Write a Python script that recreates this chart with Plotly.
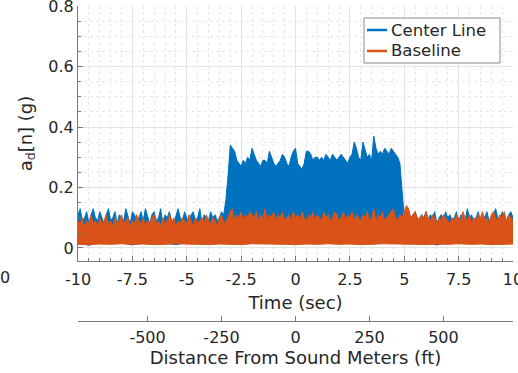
import numpy as np
import plotly.graph_objects as go

# ---------------- data ----------------
T_START, T_END = -10.0, 10.0
N_UPPER = 201          # upper envelopes read every 0.1 s
N_LOWER = 41           # lower envelopes read every 0.5 s
SPEED_FT_PER_S = 73.5

center_upper = [
    0.11, 0.13, 0.09, 0.10, 0.12, 0.08, 0.11, 0.13, 0.10, 0.09,
    0.12, 0.10, 0.08, 0.11, 0.13, 0.09, 0.10, 0.12, 0.08, 0.11,
    0.10, 0.09, 0.13, 0.10, 0.08, 0.12, 0.11, 0.09, 0.10, 0.12,
    0.09, 0.13, 0.10, 0.08, 0.11, 0.12, 0.09, 0.10, 0.13, 0.08,
    0.11, 0.10, 0.12, 0.09, 0.08, 0.11, 0.13, 0.10, 0.09, 0.12,
    0.10, 0.08, 0.11, 0.12, 0.09, 0.10, 0.13, 0.08, 0.11, 0.10,
    0.09, 0.12, 0.10, 0.11, 0.09, 0.10, 0.12, 0.11,
    0.16, 0.24,
    0.34, 0.33, 0.32, 0.29, 0.28, 0.27, 0.29, 0.28, 0.30, 0.29,
    0.33, 0.31, 0.29, 0.28, 0.27, 0.29, 0.29, 0.28, 0.32, 0.30,
    0.28, 0.27, 0.28, 0.29, 0.31, 0.30, 0.28, 0.27, 0.30, 0.32,
    0.33, 0.28, 0.27, 0.26, 0.28, 0.32, 0.32, 0.31, 0.29, 0.30,
    0.30, 0.29, 0.30, 0.29, 0.31, 0.30, 0.29, 0.31, 0.30, 0.29,
    0.30, 0.31, 0.30, 0.29, 0.28, 0.30, 0.31, 0.35, 0.33, 0.30,
    0.29, 0.35, 0.32, 0.30, 0.31, 0.29, 0.37, 0.33, 0.31, 0.32,
    0.31, 0.33, 0.32, 0.31, 0.33, 0.32, 0.31, 0.30, 0.28,
    0.20, 0.10,
    0.12, 0.10, 0.09, 0.11, 0.12, 0.10, 0.08, 0.11, 0.10, 0.12,
    0.09, 0.11, 0.10, 0.12, 0.08, 0.10, 0.11, 0.09, 0.12, 0.10,
    0.11, 0.09, 0.10, 0.12, 0.08, 0.11, 0.10, 0.09, 0.13, 0.10,
    0.11, 0.08, 0.10, 0.12, 0.09, 0.11, 0.10, 0.12, 0.09, 0.10,
    0.11, 0.13, 0.10, 0.09, 0.12, 0.10, 0.08, 0.11, 0.12, 0.10,
]

center_lower = [
    0.016, 0.009, 0.018, 0.015, 0.017, 0.010, 0.018, 0.016, 0.017, 0.011,
    0.018, 0.016, 0.017, 0.015, 0.018, 0.016, 0.017, 0.015, 0.018, 0.016,
    0.017, 0.016, 0.018, 0.015, 0.017, 0.016, 0.018, 0.016, 0.017, 0.015,
    0.018, 0.016, 0.017, 0.010, 0.018, 0.016, 0.017, 0.015, 0.018, 0.016,
    0.017,
]

baseline_upper = [
    0.09, 0.08, 0.10, 0.07, 0.09, 0.08, 0.11, 0.08, 0.09, 0.07,
    0.10, 0.08, 0.09, 0.11, 0.08, 0.09, 0.07, 0.10, 0.08, 0.09,
    0.11, 0.08, 0.09, 0.10, 0.07, 0.09, 0.08, 0.11, 0.09, 0.08,
    0.10, 0.07, 0.09, 0.08, 0.10, 0.11, 0.08, 0.09, 0.07, 0.10,
    0.08, 0.09, 0.11, 0.08, 0.10, 0.07, 0.09, 0.08, 0.10, 0.09,
    0.08, 0.11, 0.09, 0.07, 0.10, 0.08, 0.09, 0.10, 0.08, 0.11,
    0.09, 0.08, 0.10, 0.09, 0.07, 0.10, 0.11, 0.08, 0.09, 0.10,
    0.12, 0.13, 0.09, 0.11, 0.10, 0.12, 0.09, 0.11, 0.10, 0.12,
    0.11, 0.10, 0.12, 0.09, 0.11, 0.10, 0.13, 0.09, 0.11, 0.10,
    0.12, 0.09, 0.11, 0.10, 0.12, 0.09, 0.10, 0.11, 0.09, 0.12,
    0.10, 0.11, 0.09, 0.12, 0.10, 0.09, 0.11, 0.10, 0.12, 0.09,
    0.11, 0.10, 0.09, 0.12, 0.10, 0.11, 0.09, 0.10, 0.12, 0.11,
    0.09, 0.10, 0.12, 0.09, 0.11, 0.10, 0.12, 0.09, 0.11, 0.10,
    0.09, 0.11, 0.10, 0.12, 0.09, 0.10, 0.13, 0.09, 0.11, 0.10,
    0.12, 0.09, 0.10, 0.11, 0.12, 0.13, 0.10, 0.09, 0.11, 0.10,
    0.12, 0.14, 0.13, 0.10, 0.11, 0.12, 0.09, 0.10, 0.11, 0.09,
    0.12, 0.10, 0.09, 0.11, 0.10, 0.08, 0.10, 0.09, 0.11, 0.10,
    0.09, 0.08, 0.10, 0.09, 0.11, 0.10, 0.09, 0.12, 0.10, 0.09,
    0.11, 0.08, 0.10, 0.09, 0.11, 0.10, 0.12, 0.09, 0.10, 0.08,
    0.11, 0.12, 0.10, 0.09, 0.11, 0.10, 0.12, 0.09, 0.11, 0.10,
    0.09,
]

baseline_lower = [
    0.012, 0.011, 0.013, 0.012, 0.014, 0.012, 0.013, 0.011, 0.012, 0.014,
    0.013, 0.012, 0.011, 0.013, 0.012, 0.011, 0.014, 0.012, 0.013, 0.012,
    0.011, 0.013, 0.012, 0.014, 0.012, 0.013, 0.011, 0.012, 0.014, 0.012,
    0.013, 0.012, 0.011, 0.013, 0.012, 0.014, 0.012, 0.013, 0.011, 0.012,
    0.013,
]

series_names = ["Center Line", "Baseline"]
time_ticks = [-10, -7.5, -5, -2.5, 0, 2.5, 5, 7.5, 10]
time_tick_labels = ["-10", "-7.5", "-5", "-2.5", "0", "2.5", "5", "7.5", "10"]
dist_ticks = [-500, -250, 0, 250, 500]
dist_tick_labels = ["-500", "-250", "0", "250", "500"]
y_ticks = [0, 0.2, 0.4, 0.6, 0.8]
y_tick_labels = ["0", "0.2", "0.4", "0.6", "0.8"]

t_up = np.linspace(T_START, T_END, N_UPPER)
t_lo = np.linspace(T_START, T_END, N_LOWER)

# ---------------- styling ----------------
FONT = "DejaVu Sans"
TXT = "#262626"
AX = "#7a7a7a"
GRID = "#e3e3e3"
MINOR = "#e8e8e8"
BLUE = "#0072BD"
ORANGE = "#D95319"
COLORS = [BLUE, ORANGE]

W, H = 518, 373
L, R, T, B = 78, 5, 6, 30
plot_h = H - T - B
plot_w = W - L - R


def px_x(px):
    return (px - L) / plot_w


def px_y(py):
    return (H - B - py) / plot_h


def band(upper, lower):
    xs = list(t_up) + list(t_lo[::-1])
    ys = list(upper) + list(lower[::-1])
    return xs, ys


fig = go.Figure()
for up, lo, col, name in [(center_upper, center_lower, BLUE, series_names[0]),
                          (baseline_upper, baseline_lower, ORANGE, series_names[1])]:
    xs, ys = band(up, lo)
    fig.add_trace(go.Scatter(x=xs, y=ys, mode="lines", fill="toself", fillcolor=col, name=name,
                             line=dict(color=col, width=1), showlegend=False, hoverinfo="skip"))
# carrier for the distance axis
fig.add_trace(go.Scatter(x=[None], y=[None], xaxis="x2", mode="lines",
                         showlegend=False, hoverinfo="skip"))

fig.update_layout(
    width=W, height=H,
    margin=dict(l=L, r=R, t=T, b=B, autoexpand=False),
    paper_bgcolor="white", plot_bgcolor="white",
    font=dict(family=FONT, size=16, color=TXT),
    showlegend=False,
    xaxis=dict(
        range=[T_START, T_END], domain=[0, 1], anchor="y", automargin=False,
        tickvals=time_ticks, ticktext=time_tick_labels,
        ticks="inside", ticklen=5, tickcolor=AX, ticklabelstandoff=4,
        ticklabeloverflow="allow",
        showline=True, linecolor=AX, linewidth=1,
        showgrid=True, gridcolor=GRID, gridwidth=1, zeroline=False,
        minor=dict(dtick=0.5, showgrid=True, gridcolor=MINOR, griddash="dot",
                   ticks="inside", ticklen=3, tickcolor=AX),
        tickfont=dict(family=FONT, size=16, color=TXT),
        title=dict(text="Time (sec)", font=dict(family=FONT, size=18, color=TXT), standoff=8),
    ),
    yaxis=dict(
        range=[-0.043, 0.8], domain=[px_y(261), 1], automargin=False,
        tickvals=y_ticks, ticktext=y_tick_labels,
        ticks="inside", ticklen=5, tickcolor=AX, ticklabeloverflow="allow",
        showline=True, linecolor=AX, linewidth=1,
        showgrid=True, gridcolor=GRID, gridwidth=1, zeroline=False,
        minor=dict(dtick=0.05, showgrid=True, gridcolor=MINOR, griddash="dot",
                   ticks="inside", ticklen=3, tickcolor=AX),
        tickfont=dict(family=FONT, size=16, color=TXT),
        title=dict(text="a<sub>d</sub>[n] (g)", font=dict(family=FONT, size=18, color=TXT), standoff=11),
    ),
    xaxis2=dict(
        overlaying="x", anchor="free", position=px_y(321), side="bottom", automargin=False,
        range=[T_START * SPEED_FT_PER_S, T_END * SPEED_FT_PER_S],
        tickvals=dist_ticks, ticktext=dist_tick_labels,
        ticks="inside", ticklen=5, tickcolor=AX, ticklabelstandoff=2,
        showline=True, linecolor=AX, linewidth=1,
        showgrid=False, zeroline=False,
        tickfont=dict(family=FONT, size=16, color=TXT),
        title=dict(text="Distance From Sound Meters (ft)", font=dict(family=FONT, size=18, color=TXT), standoff=3),
    ),
)

# legend box (MATLAB style)
fig.add_shape(type="rect", xref="paper", yref="paper",
              x0=px_x(364), x1=px_x(500), y0=px_y(63), y1=px_y(18),
              fillcolor="white", line=dict(color="#8a8a8a", width=1), layer="above")
for i, (name, col) in enumerate(zip(series_names, COLORS)):
    yy = px_y(30 + 21 * i)
    fig.add_shape(type="line", xref="paper", yref="paper",
                  x0=px_x(367), x1=px_x(387), y0=yy, y1=yy,
                  line=dict(color=col, width=2.5), layer="above")
    fig.add_annotation(text=name, x=px_x(389), y=yy, xref="paper", yref="paper",
                       showarrow=False, xanchor="left", yanchor="middle",
                       font=dict(family=FONT, size=16.5, color=TXT))

# fragment of neighbouring panel's tick label at far left
fig.add_annotation(text="0", x=px_x(5), y=px_y(277),
                   xref="paper", yref="paper", showarrow=False,
                   font=dict(family=FONT, size=16, color=TXT), xanchor="center", yanchor="middle")

fig.write_html("out.html", config={"displayModeBar": False},
               post_script="document.body.style.margin='0px';document.body.style.overflow='hidden';")
